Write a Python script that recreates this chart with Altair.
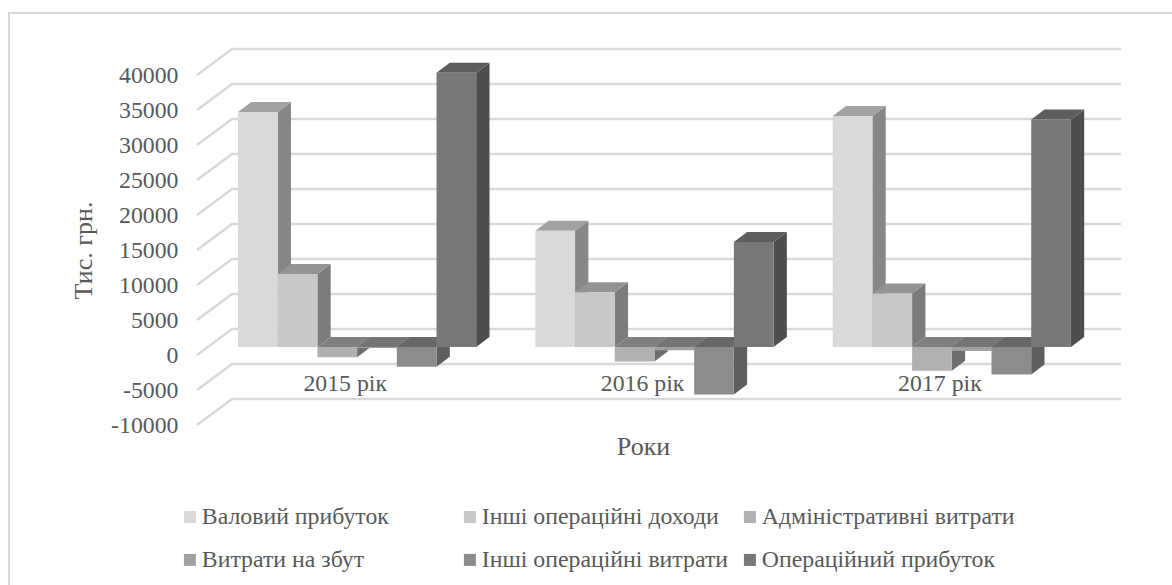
import altair as alt
import pandas as pd

# Operating results by year, thousand UAH
years = ["2015 рік", "2016 рік", "2017 рік"]
series = [
    "Валовий прибуток",
    "Інші операційні доходи",
    "Адміністративні витрати",
    "Витрати на збут",
    "Інші операційні витрати",
    "Операційний прибуток",
]
values_2015 = [33570, 10430, -1470, -150, -2810, 39190]
values_2016 = [16590, 7830, -2070, -470, -6790, 15010]
values_2017 = [33010, 7640, -3410, -570, -3930, 32500]
year_values = [values_2015, values_2016, values_2017]

front_colors = ["#d9d9d9", "#c8c8c8", "#b0b0b0", "#a0a0a0", "#8c8c8c", "#787878"]
side_colors = ["#878787", "#7c7c7c", "#6e6e6e", "#666666", "#5f5f5f", "#4e4e4e"]
top_colors = ["#a2a2a2", "#949494", "#808080", "#757575", "#676767", "#5d5d5d"]

value_ticks = list(range(-10000, 40001, 5000))

# Pseudo-3D geometry: x is measured in bar widths, y in axis units
GROUP_STEP = 7.49
BAR_DEPTH_X = 0.335
BAR_DEPTH_Y = 1430
PLANE_SHIFT = 1146
WALL_DEPTH_X = 0.882
WALL_DEPTH_Y = 3714
X_MIN = -1.0327
X_MAX = 22.2418
GRID = "#d9d9d9"
TEXT = "#595959"
FONT = "Liberation Serif"
FONT_SIZE = 23.8
TITLE_SIZE = 26

rows_side, rows_top, rows_front = [], [], []
for g, vals in enumerate(year_values):
    for s, v in enumerate(vals):
        left = g * GROUP_STEP + s
        right = left + 1
        high = max(v, 0) + PLANE_SHIFT
        low = min(v, 0) + PLANE_SHIFT
        key = f"{g}-{s}"
        rows_front.append(dict(s=s, name=series[s], x=left, x2=right, y=low, y2=high))
        rows_side += [
            dict(s=s, key=key, x=right, y=low, y2=high),
            dict(s=s, key=key, x=right + BAR_DEPTH_X, y=low + BAR_DEPTH_Y, y2=high + BAR_DEPTH_Y),
        ]
        rows_top += [
            dict(s=s, key=key, x=left, y=high, y2=high),
            dict(s=s, key=key, x=left + BAR_DEPTH_X, y=high, y2=high + BAR_DEPTH_Y),
            dict(s=s, key=key, x=right, y=high, y2=high + BAR_DEPTH_Y),
            dict(s=s, key=key, x=right + BAR_DEPTH_X, y=high + BAR_DEPTH_Y, y2=high + BAR_DEPTH_Y),
        ]

grid_rows = []
for t in value_ticks:
    grid_rows += [
        dict(t=t, i=0, x=X_MIN, y=t),
        dict(t=t, i=1, x=X_MIN + WALL_DEPTH_X, y=t + WALL_DEPTH_Y),
        dict(t=t, i=2, x=X_MAX, y=t + WALL_DEPTH_Y),
    ]

df_side = pd.DataFrame(rows_side)
df_top = pd.DataFrame(rows_top)
df_front = pd.DataFrame(rows_front)
df_grid = pd.DataFrame(grid_rows)
df_years = pd.DataFrame(
    dict(year=years, x=[g * GROUP_STEP + 2.7 for g in range(len(years))], y=[-4130] * len(years))
)

x_scale = alt.Scale(domain=[X_MIN, X_MAX], nice=False, zero=False)
y_scale = alt.Scale(domain=[-10000, 45000], nice=False, zero=False)

x_axis = alt.Axis(
    title="Роки",
    labels=False,
    ticks=False,
    domain=False,
    grid=False,
    titleFont=FONT,
    titleFontSize=TITLE_SIZE,
    titleFontWeight="normal",
    titleColor=TEXT,
    titleX=446,
    titleY=29,
    titleBaseline="alphabetic",
)
y_axis = alt.Axis(
    title="Тис. грн.",
    values=value_ticks,
    labelExpr="'' + datum.value",
    ticks=False,
    domain=False,
    grid=False,
    labelFont=FONT,
    labelFontSize=FONT_SIZE,
    labelColor=TEXT,
    labelPadding=19,
    titleFont=FONT,
    titleFontSize=TITLE_SIZE,
    titleFontWeight="normal",
    titleColor=TEXT,
    titleX=-101,
    titleY=210,
)
x_enc = alt.X("x:Q", scale=x_scale, axis=x_axis)
y_enc = alt.Y("y:Q", scale=y_scale, axis=y_axis)

grid = (
    alt.Chart(df_grid)
    .mark_line(color=GRID, strokeWidth=2.4, clip=False)
    .encode(x=x_enc, y=y_enc, detail="t:N", order="i:O")
)

# The legend fills column by column, so the domain is listed in that order
legend_order = [0, 3, 1, 4, 2, 5]
legend_domain = [series[i] for i in legend_order]
legend_range = [front_colors[i] for i in legend_order]

layers = [grid]
for s, name in enumerate(series):
    side = (
        alt.Chart(df_side[df_side.s == s])
        .mark_area(color=side_colors[s], clip=False)
        .encode(x=x_enc, y=y_enc, y2="y2:Q", detail="key:N")
    )
    top = (
        alt.Chart(df_top[df_top.s == s])
        .mark_area(color=top_colors[s], clip=False)
        .encode(x=x_enc, y=y_enc, y2="y2:Q", detail="key:N")
    )
    front = (
        alt.Chart(df_front[df_front.s == s])
        .mark_bar(clip=False)
        .encode(
            x=x_enc,
            x2="x2:Q",
            y=y_enc,
            y2="y2:Q",
            color=alt.Color(
                "name:N",
                scale=alt.Scale(domain=legend_domain, range=legend_range),
                legend=alt.Legend(
                    title=None,
                    orient="none",
                    legendX=-19,
                    legendY=465,
                    columns=3,
                    gridAlign="all",
                    columnPadding=3,
                    rowPadding=18,
                    symbolType="square",
                    symbolSize=144,
                    symbolStrokeWidth=0,
                    labelOffset=0,
                    labelFont=FONT,
                    labelFontSize=FONT_SIZE,
                    labelColor=TEXT,
                    labelLimit=400,
                ),
            ),
        )
    )
    layers += [side, top, front]

year_labels = (
    alt.Chart(df_years)
    .mark_text(font=FONT, fontSize=FONT_SIZE, color=TEXT, align="center", baseline="middle")
    .encode(x=x_enc, y=y_enc, text="year:N")
)
layers.append(year_labels)

# Light frame along the top and left edges of the figure; the rest runs off the page
frame = (
    alt.Chart(pd.DataFrame({"k": [0]}))
    .mark_rect(fill=None, stroke=GRID, strokeWidth=2, clip=False)
    .encode(
        x=alt.value(-188),
        x2=alt.value(1000),
        y=alt.value(-27),
        y2=alt.value(600),
    )
)
layers.append(frame)

chart = (
    alt.layer(*layers)
    .resolve_scale(color="shared")
    .properties(
        width=924,
        height=385,
        padding={"left": 197, "top": 40, "right": 51, "bottom": 160},
        autosize=alt.AutoSizeParams(type="none"),
        background="white",
    )
    .configure_view(stroke=None)
)

chart.save("out.html", embed_options={"renderer": "svg", "actions": False})
